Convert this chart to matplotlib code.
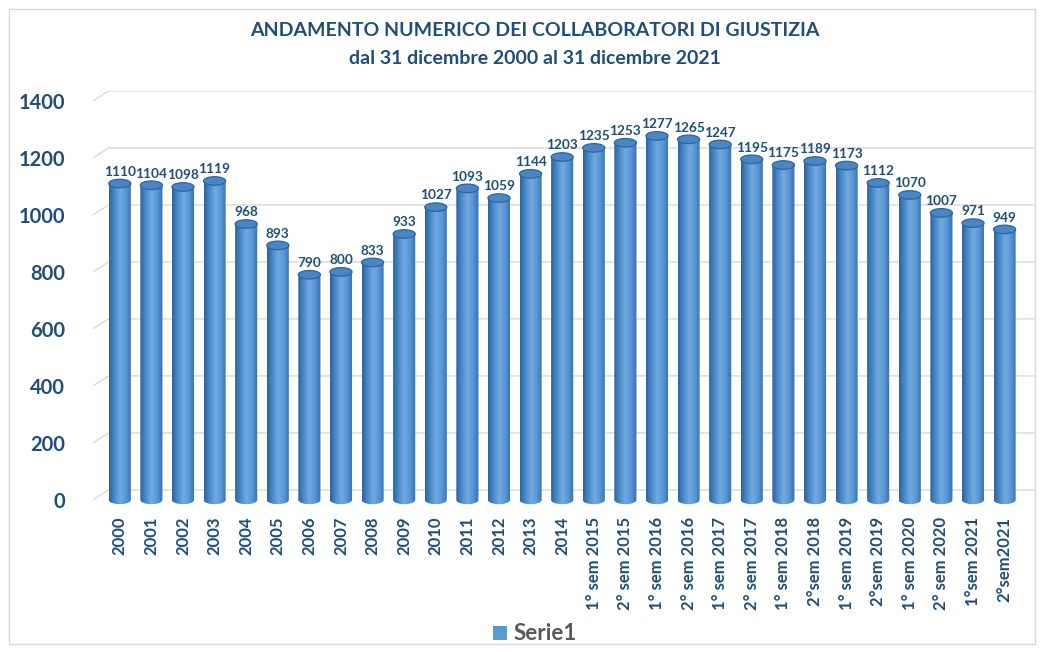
import numpy as np
import matplotlib
matplotlib.use("Agg")
import matplotlib.pyplot as plt
from matplotlib.patches import Ellipse, PathPatch, Rectangle
from matplotlib.path import Path
from matplotlib.colors import LinearSegmentedColormap

# ------------- Data --------------
periods = ["2000", "2001", "2002", "2003", "2004", "2005", "2006", "2007",
           "2008", "2009", "2010", "2011", "2012", "2013", "2014",
           "1° sem 2015", "2° sem 2015", "1° sem 2016", "2° sem 2016",
           "1° sem 2017", "2° sem 2017", "1° sem 2018", "2°sem 2018",
           "1° sem 2019", "2°sem 2019", "1° sem 2020", "2° sem 2020",
           "1°sem 2021", "2°sem2021"]
collaboratori = [1110, 1104, 1098, 1119, 968, 893, 790, 800, 833, 933,
                 1027, 1093, 1059, 1144, 1203,
                 1235, 1253, 1277, 1265, 1247, 1195, 1175, 1189, 1173,
                 1112, 1070, 1007, 971, 949]
y_ticks = [0, 200, 400, 600, 800, 1000, 1200, 1400]

title1 = "ANDAMENTO NUMERICO DEI COLLABORATORI DI GIUSTIZIA"
title2 = "dal 31 dicembre 2000 al 31 dicembre 2021"
series_name = "Serie1"

# ------------- Style --------------
plt.rcParams['font.family'] = ['Lato', 'DejaVu Sans']
navy = '#1F4E79'
bar_w = 0.7
ell_h = 30          # cylinder cap height in data units
grid_shift = 35     # back-wall gridline offset in data units
cyl = LinearSegmentedColormap.from_list(
    "cyl", ["#2A64A0", "#4C8CCB", "#72AAE2", "#5896D4", "#3570AE"])

fig = plt.figure(figsize=(10.44, 6.52), dpi=100)
ax = fig.add_axes([0.089, 0.2158, 0.902, 0.6448])
ax.set_xlim(-0.85, len(periods) - 0.05)
ax.set_ylim(-40, 1435)

# frame around the whole picture
fig.patches.append(Rectangle((0.009, 0.012), 0.982, 0.974, transform=fig.transFigure,
                             fill=False, edgecolor='#D9D9D9', linewidth=1))

# gridlines with a small perspective kink on the left
x_lo, x_hi = ax.get_xlim()
for t in y_ticks:
    ax.plot([x_lo, x_lo + 0.5, x_hi], [t, t + grid_shift, t + grid_shift],
            color='#D9D9D9', linewidth=1, zorder=0, solid_capstyle='butt')

# cylinders
grad = np.linspace(0, 1, 64).reshape(1, -1)
for i, v in enumerate(collaboratori):
    x0, x1 = i - bar_w / 2, i + bar_w / 2
    th = np.linspace(np.pi, 2 * np.pi, 30)
    bx = i + bar_w / 2 * np.cos(th)
    by = ell_h / 2 * np.sin(th)
    verts = list(zip(bx, by)) + [(x1, v), (x0, v), (x0, 0)]
    codes = [Path.MOVETO] + [Path.LINETO] * (len(verts) - 2) + [Path.CLOSEPOLY]
    body = PathPatch(Path(verts, codes), facecolor='none', edgecolor='none')
    ax.add_patch(body)
    im = ax.imshow(grad, cmap=cyl, aspect='auto', extent=(x0, x1, -ell_h, v),
                   zorder=2, interpolation='bilinear')
    im.set_clip_path(body)
    ax.add_patch(Ellipse((i, v), bar_w, ell_h, facecolor='#4A85C4',
                         edgecolor='#2F649E', linewidth=0.9, zorder=3))
    ax.text(i, v + ell_h / 2 + 5, str(v), ha='center', va='bottom',
            fontsize=9.8, fontweight='bold', color=navy, zorder=4)

ax.set_xticks(range(len(periods)))
ax.set_xticklabels(periods, rotation=90, fontsize=12, fontweight='bold', color=navy)
ax.set_yticks(y_ticks)
ax.set_yticklabels([str(t) for t in y_ticks], fontsize=14.5, fontweight='bold', color=navy)
ax.tick_params(axis='both', length=0)
ax.tick_params(axis='x', pad=4)
ax.tick_params(axis='y', pad=20)
for s in ax.spines.values():
    s.set_visible(False)

fig.text(0.512, 0.953, title1, ha='center', va='center', fontsize=14,
         fontweight='bold', color=navy)
fig.text(0.512, 0.910, title2, ha='center', va='center', fontsize=14,
         fontweight='bold', color=navy)

# legend
fig.patches.append(Rectangle((0.4725, 0.019), 0.0135, 0.021, transform=fig.transFigure,
                             facecolor='#5B9BD5', edgecolor='none'))
fig.text(0.492, 0.029, series_name, ha='left', va='center', fontsize=16,
         fontweight='bold', color='#595959')

fig.savefig('out.png', dpi=100)
